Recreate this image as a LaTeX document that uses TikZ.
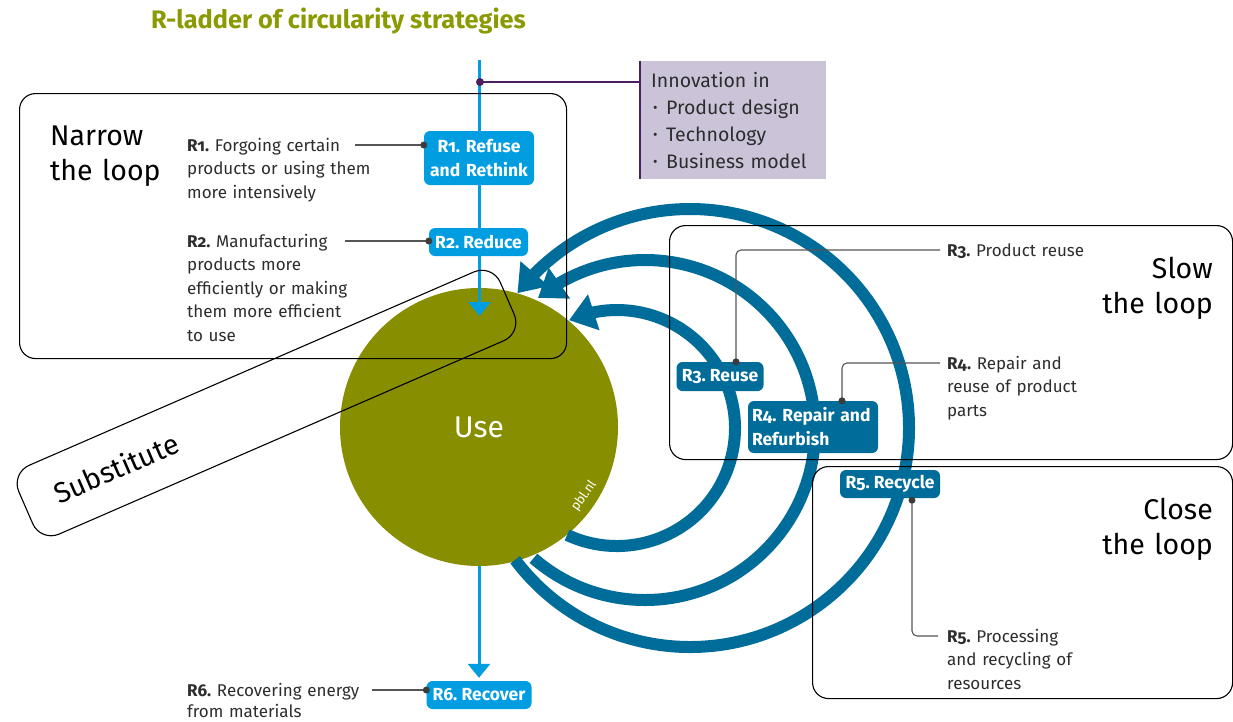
\documentclass[tikz,border=0pt]{standalone}
\usepackage{fontspec}
\setmainfont{Fira Sans}[Numbers=OldStyle]
\usetikzlibrary{arrows.meta,bending,calc}
\frenchspacing
\definecolor{pblolive}{RGB}{135,143,0}
\definecolor{titlegreen}{RGB}{138,154,0}
\definecolor{skyblue}{RGB}{0,158,224}
\definecolor{pblteal}{RGB}{0,108,153}
\definecolor{lavender}{RGB}{203,195,216}
\definecolor{plum}{RGB}{75,30,95}
\definecolor{txt}{RGB}{45,45,45}
\definecolor{connc}{RGB}{85,85,85}
\tikzset{
 loopbox/.style={draw=black, line width=1.1pt, rounded corners=16pt, inner sep=0pt, anchor=north west},
 desc/.style={font=\fontsize{17}{23.5}\selectfont, text=txt, anchor=base west, inner sep=0pt, align=left},
 lbl/.style={rounded corners=6pt, text=white, font=\bfseries\fontsize{17.5}{24}\selectfont, inner sep=0pt, align=center},
 skylbl/.style={lbl, fill=skyblue},
 teallbl/.style={lbl, fill=pblteal},
 heading/.style={font=\fontsize{28.5}{35}\selectfont, text=black, inner sep=0pt},
 connline/.style={draw=connc, line width=1.1pt},
 dotnode/.style={circle, fill=connc!70!black, minimum size=7pt, inner sep=0pt},
 arcpath/.style={draw=pblteal, line width=12pt, -{Triangle[length=26pt,width=36pt]}},
 flow/.style={draw=skyblue, line width=3pt, -{Triangle[length=14pt,width=22pt]}},
}
\begin{document}
\begin{tikzpicture}[x=1pt,y=-1pt]
\fill[white] (0,0) rectangle (1233,721);
\useasboundingbox (0,0) rectangle (1233,721);

% title
\node[anchor=base west, inner sep=0pt, font=\bfseries\fontsize{25.3}{28}\selectfont, text=titlegreen] (title) at (151,28) {R-ladder of circularity strategies};

% central circle
\node[circle, fill=pblolive, minimum size=278pt, inner sep=0pt, text=white, font=\fontsize{30}{32}\selectfont] (use) at (479,427) {Use};
\node[rotate=55, text=white, font=\fontsize{13}{14}\selectfont, inner sep=0pt] (pbl) at (584,496) {pbl.nl};

% loop arcs
\coordinate (c3) at (617,428);
\coordinate (c4) at (645,430);
\coordinate (c5) at (690,428);
\draw[arcpath] ($(c3)+(115:118)$) arc[start angle=115, end angle=-114, radius=118];
\draw[arcpath] ($(c4)+(131:170)$) arc[start angle=131, end angle=-129, radius=170];
\draw[arcpath] ($(c5)+(143:219)$) arc[start angle=143, end angle=-142, radius=219];

% innovation box
\node[fill=lavender, anchor=north west, minimum width=186pt, minimum height=118pt, inner xsep=11pt, inner ysep=0pt, text width=164pt, align=left, font=\fontsize{19.5}{27}\selectfont, text=txt] (innov) at (640,61)
 {Innovation in\\
  \hspace*{2pt}\makebox[13pt][l]{\raisebox{0.15ex}{\scalebox{0.7}{\textbullet}}}Product design\\
  \hspace*{2pt}\makebox[13pt][l]{\raisebox{0.15ex}{\scalebox{0.7}{\textbullet}}}Technology\\
  \hspace*{2pt}\makebox[13pt][l]{\raisebox{0.15ex}{\scalebox{0.7}{\textbullet}}}Business model};
\draw[plum, line width=1.3pt] (innov.north west) -- (innov.south west);

% vertical flow
\coordinate (top) at (479.5,60);
\coordinate (tipin) at (479.5,316);
\draw[flow] (top) -- (tipin);
\coordinate (pd) at (480,82);
\draw[plum, line width=1.3pt] (pd) -- (innov.west |- pd);
\fill[plum] (pd) circle (4);

% loop boxes
\node[loopbox, minimum width=547pt, minimum height=265pt] (narrow) at (19,93) {};
\node[loopbox, minimum width=563pt, minimum height=234pt] (slow) at (669,225) {};
\node[loopbox, minimum width=420pt, minimum height=232pt] (close) at (812,466) {};
\node[draw=black, line width=1.1pt, rounded corners=20pt, rotate=23.5, minimum width=525pt, minimum height=75pt, inner sep=0pt] (subst) at (266.5,403) {};
\node[rotate=23.5, inner sep=0pt, font=\fontsize{28.5}{30}\selectfont] (substt) at (116,468) {Substitute};

% headings
\node[heading, anchor=base west, text width=150pt, align=left] (narrowt) at (50,145) {Narrow\\the loop};
\node[heading, anchor=base east, text width=150pt, align=right] (slowt) at (1213,278) {Slow\\the loop};
\node[heading, anchor=base east, text width=150pt, align=right] (closet) at (1213,519) {Close\\the loop};

% labels
\node[skylbl, minimum width=110pt, minimum height=54pt, text width=106pt] (r1) at (479,158) {R1. Refuse\\and Rethink};
\node[skylbl, minimum width=99pt, minimum height=28pt] (r2) at (478.5,242) {R2. Reduce};
\node[skylbl, minimum width=105pt, minimum height=28pt] (r6) at (479,695) {R6. Recover};
\node[teallbl, minimum width=87pt, minimum height=29pt] (r3) at (720,376.5) {R3. Reuse};
\node[teallbl, minimum width=130pt, minimum height=52pt, text width=122pt, align=left] (r4) at (813,427) {R4. Repair and\\Refurbish};
\node[teallbl, minimum width=100pt, minimum height=28pt] (r5) at (890,484) {R5. Recycle};

% bottom flow
\draw[flow] (use.south) -- ($(r6.north)+(0,-3)$);

% descriptions
\node[desc, text width=230pt] (d1) at (187,151) {\textbf{R1.} Forgoing certain\\products or using them\\more intensively};
\node[desc, text width=230pt] (d2) at (187,247) {\textbf{R2.} Manufacturing\\products more\\efficiently or making\\them more efficient\\to use};
\node[desc, text width=230pt, font=\fontsize{17}{21}\selectfont] (d6) at (187,696) {\textbf{R6.} Recovering energy\\from materials};
\node[desc, text width=230pt] (d3) at (947,256) {\textbf{R3.} Product reuse};
\node[desc, text width=230pt] (d4) at (947,369) {\textbf{R4.} Repair and\\reuse of product\\parts};
\node[desc, text width=230pt] (d5) at (947,642) {\textbf{R5.} Processing\\and recycling of\\resources};

% connectors
\coordinate (c1s) at (355,145);
\draw[connline] (c1s) -- (r1.west |- c1s);
\node[dotnode] (dot1) at (r1.west |- c1s) {};
\coordinate (c2s) at (345,241);
\draw[connline] (c2s) -- (r2.west |- c2s);
\node[dotnode] (dot2) at (r2.west |- c2s) {};
\coordinate (c6s) at (372,690);
\draw[connline] (c6s) -- (r6.west |- c6s);
\node[dotnode] (dot6) at (r6.west |- c6s) {};

\coordinate (p3) at ($(r3.north)+(16,0)$);
\coordinate (e3) at (940,250);
\draw[connline, rounded corners=5pt] (p3) |- (e3);
\node[dotnode] (dot3) at (p3) {};
\coordinate (p4) at ($(r4.north)+(29,0)$);
\coordinate (e4) at (940,363);
\draw[connline, rounded corners=5pt] (p4) |- (e4);
\node[dotnode] (dot4) at (p4) {};
\coordinate (p5) at ($(r5.south)+(22,2)$);
\coordinate (e5) at (938,636);
\draw[connline, rounded corners=5pt] (p5) |- (e5);
\node[dotnode] (dot5) at (p5) {};
\end{tikzpicture}
\end{document}
